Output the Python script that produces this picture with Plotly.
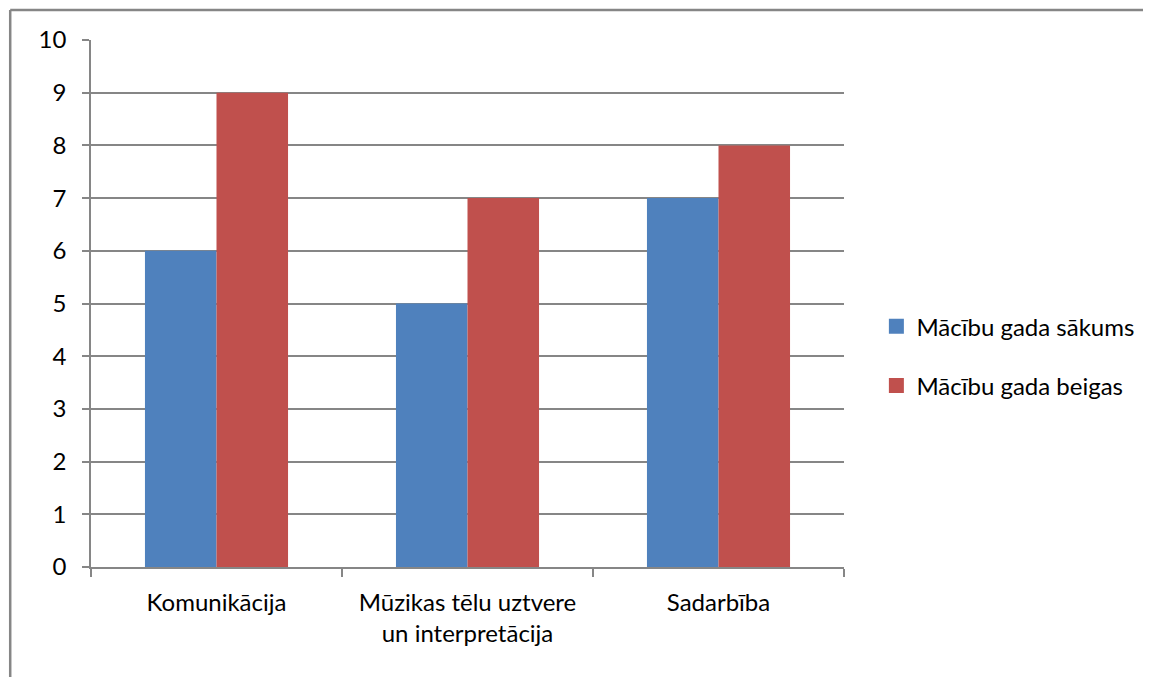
import plotly.graph_objects as go

categories = ["Komunikācija", "Mūzikas tēlu uztvere<br>un interpretācija", "Sadarbība"]
series_names = ["Mācību gada sākums", "Mācību gada beigas"]
start_values = [6, 5, 7]
end_values = [9, 7, 8]
y_ticks = list(range(0, 11))

colors = ["#4F81BD", "#C0504D"]
FONT = "Lato"
FS = 24

fig = go.Figure()
for name, vals, col in zip(series_names, [start_values, end_values], colors):
    fig.add_trace(go.Bar(x=categories, y=vals, name=name, marker_color=col,
                         marker_line_width=0, showlegend=False))
# legend entries with larger square symbols
for name, col, grp in zip(series_names, colors, ["a", "b"]):
    fig.add_trace(go.Scatter(x=[None], y=[None], mode="markers", name=name, legendgroup=grp,
                             marker=dict(symbol="square", size=15, color=col), showlegend=True))

# page has an 8px body margin: shrink the figure by 8px and shift margins accordingly
fig.update_layout(
    width=1143, height=669,
    margin=dict(l=83, r=305, t=32, b=110),
    paper_bgcolor="white", plot_bgcolor="white",
    barmode="group", bargap=0.43, bargroupgap=0,
    font=dict(family=FONT, size=FS, color="black"),
    showlegend=True,
    legend=dict(x=1.043, xanchor="left", y=0.40, yanchor="middle",
                font=dict(family=FONT, size=FS, color="black"),
                tracegroupgap=25, traceorder="grouped",
                itemwidth=30),
    xaxis=dict(type="category", range=[-0.5, 2.5], showline=True, linecolor="#868686", linewidth=1.5,
               ticks="outside", tickson="boundaries", ticklen=8, tickcolor="#868686", tickwidth=1.5,
               showgrid=False, zeroline=False, automargin=False, ticklabelstandoff=13),
    yaxis=dict(range=[0, 10], tickvals=y_ticks, showline=True, linecolor="#868686", linewidth=1.5,
               ticks="outside", ticklen=7, tickcolor="#868686", tickwidth=1.5,
               showgrid=True, gridcolor="#868686", gridwidth=1.5, zeroline=False,
               ticklabelstandoff=11, automargin=False),
    shapes=[
        dict(type="line", xref="paper", yref="paper", x0=-81/755, x1=1 + 305/755, y0=1 + 30/527, y1=1 + 30/527,
             line=dict(color="#868686", width=2.5)),
        dict(type="line", xref="paper", yref="paper", x0=-81/755, x1=-81/755, y0=1 + 30/527, y1=-110/527,
             line=dict(color="#868686", width=2.5)),
    ],
)

fig.write_html("out.html")
